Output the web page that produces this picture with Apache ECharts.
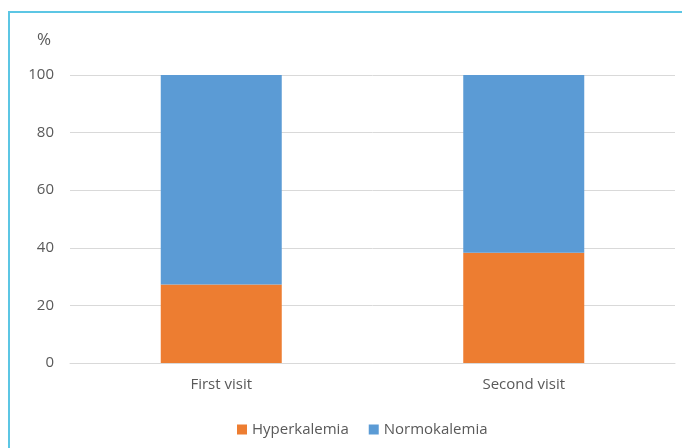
<!DOCTYPE html>
<html><head><meta charset="utf-8">
<script src="https://cdn.jsdelivr.net/npm/echarts@6/dist/echarts.min.js"></script>
<style>
html,body{margin:0;padding:0;background:#fff;}
#frame{position:absolute;left:8px;top:11px;width:674px;height:437px;border-left:2px solid #5cc6e4;border-top:2px solid #5cc6e4;}
#c{position:absolute;left:0;top:0;width:682px;height:448px;}
</style></head>
<body>
<div id="frame"></div>
<div id="c"></div>
<script>
const categories = ['First visit', 'Second visit'];
const hyperkalemia = [27.3, 38.3];
const normokalemia = [72.7, 61.7];
const yTicks = [0, 20, 40, 60, 80, 100];

const chart = echarts.init(document.getElementById('c'), null, {renderer: 'canvas'});
const font = '"Open Sans", sans-serif';
chart.setOption({
  backgroundColor: 'transparent',
  animation: false,
  grid: {left: 70, right: 7, top: 75, bottom: 85},
  title: {text: '%', left: 32, top: 27, textStyle: {fontFamily: font, fontSize: 17, fontWeight: 'normal', color: '#595959'}},
  legend: {
    bottom: 6, left: 232, itemWidth: 10, itemHeight: 10, itemGap: 20, icon: 'rect',
    textStyle: {fontFamily: font, fontSize: 15, color: '#595959'},
    data: ['Hyperkalemia', 'Normokalemia']
  },
  xAxis: {
    type: 'category', data: categories,
    axisLine: {lineStyle: {color: '#d9d9d9', width: 1}},
    axisTick: {show: false},
    axisLabel: {fontFamily: font, fontSize: 15, color: '#595959', margin: 14}
  },
  yAxis: {
    type: 'value', min: yTicks[0], max: yTicks[yTicks.length - 1], interval: 20,
    axisLine: {show: false}, axisTick: {show: false},
    axisLabel: {fontFamily: font, fontSize: 15, color: '#595959', margin: 16},
    splitLine: {lineStyle: {color: '#d9d9d9', width: 1}}
  },
  series: [
    {name: 'Hyperkalemia', type: 'bar', stack: 's', data: hyperkalemia, barWidth: '40%', itemStyle: {color: '#ed7d31'}},
    {name: 'Normokalemia', type: 'bar', stack: 's', data: normokalemia, barWidth: '40%', itemStyle: {color: '#5b9bd5'}}
  ]
});
</script>
</body></html>
